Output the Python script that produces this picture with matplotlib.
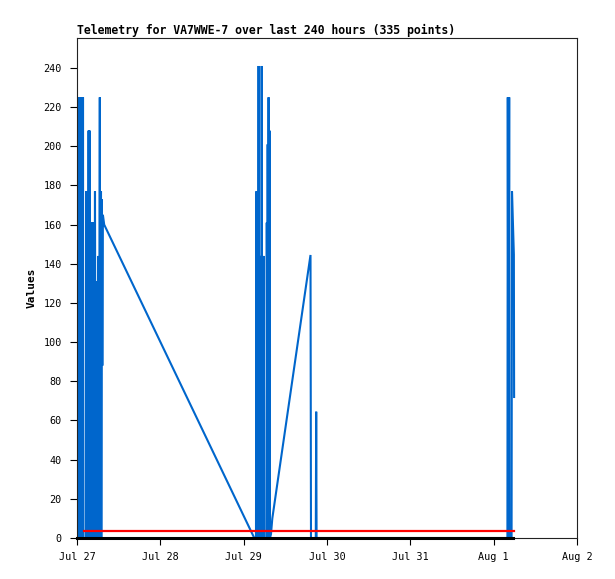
import matplotlib
matplotlib.use("Agg")
import matplotlib.pyplot as plt
import matplotlib.dates as mdates
from datetime import datetime, timedelta

# ---- data (hours since Jul 27 00:00) ----
start = datetime(2024, 7, 27)
blue_hours = [0.55, 0.60, 0.81, 0.89, 1.09, 1.18, 1.38, 1.47, 1.64, 1.73, 1.81,
              2.53, 2.62, 2.79, 3.02, 3.17, 3.34, 3.48, 3.63, 3.77, 3.92, 4.09,
              4.23, 4.41, 4.55, 4.72, 4.84, 4.98, 5.18, 5.36, 5.73, 5.90, 6.13,
              6.31, 6.57, 6.74, 6.91, 7.00, 7.17, 7.29, 7.46, 7.83,
              51.06, 51.55, 51.67, 51.84, 51.96, 52.10, 52.30, 52.47, 52.62,
              52.79, 52.93, 53.05, 53.19, 53.34, 53.48, 53.65, 53.80, 53.94,
              54.60, 54.66, 54.81, 54.92, 55.04, 55.18, 55.30, 55.44, 55.58,
              55.87, 56.25, 67.25, 67.39, 68.77, 68.89, 69.00,
              123.96, 124.07, 124.27, 124.47, 124.56, 125.16, 125.28, 125.82, 125.89]
blue_values = [0, 225, 0, 225, 0, 225, 0, 225, 0, 225, 0,
               0, 177, 0, 161, 0, 208, 0, 208, 0, 161, 0,
               161, 0, 161, 0, 161, 0, 177, 0, 131, 0, 144,
               0, 225, 0, 177, 0, 173, 88, 165, 160,
               0, 0, 177, 0, 177, 0, 241, 0, 144,
               0, 144, 0, 241, 0, 144, 0, 144, 0,
               0, 161, 0, 201, 0, 225, 0, 208, 0,
               2, 10, 144.5, 0, 0, 64.5, 0,
               0, 225, 0, 225, 0, 0, 177, 144.7, 72]
red_hours = [2.0, 126.0]
red_values = [3.8, 3.8]
black_hours = [0.0, 125.6]
black_values = [0, 0]

y_ticks = list(range(0, 241, 20))
x_tick_days = [0, 1, 2, 3, 4, 5, 6]
title = "Telemetry for VA7WWE-7 over last 240 hours (335 points)"

def to_dt(hs):
    return [start + timedelta(hours=h) for h in hs]

fig = plt.figure(figsize=(6.15, 5.79), dpi=100)
ax = fig.add_axes([0.1252, 0.0708, 0.813, 0.8636])

ax.plot(to_dt(blue_hours), blue_values, color="#0066cc", lw=1.5, solid_joinstyle="miter", zorder=2)
ax.plot(to_dt(red_hours), red_values, color="#ff0000", lw=1.6, zorder=3)
ax.plot(to_dt(black_hours), black_values, color="#000000", lw=2.2, zorder=4, clip_on=False)

ax.set_xlim(start, start + timedelta(days=6))
ax.set_ylim(0, 255.3)
ax.set_yticks(y_ticks)
ax.set_xticks([start + timedelta(days=d) for d in x_tick_days])
ax.xaxis.set_major_formatter(mdates.DateFormatter("%b %-d"))

mono = "DejaVu Sans Mono"
for lab in ax.get_xticklabels() + ax.get_yticklabels():
    lab.set_family(mono)
    lab.set_fontsize(7.3)
ax.tick_params(axis="x", length=5, width=0.8, pad=5, direction="out", color="black")
ax.tick_params(axis="y", length=5, width=0.8, pad=6, direction="out", color="black")
for s in ax.spines.values():
    s.set_linewidth(0.8)
    s.set_color("#222222")

ax.set_title(title, loc="left", family=mono, fontweight="bold", fontsize=8.3, pad=3)
ax.set_ylabel("Values", family=mono, fontweight="bold", fontsize=8)
ax.yaxis.set_label_coords(-0.08, 0.5)

fig.savefig("out.png", dpi=100)
